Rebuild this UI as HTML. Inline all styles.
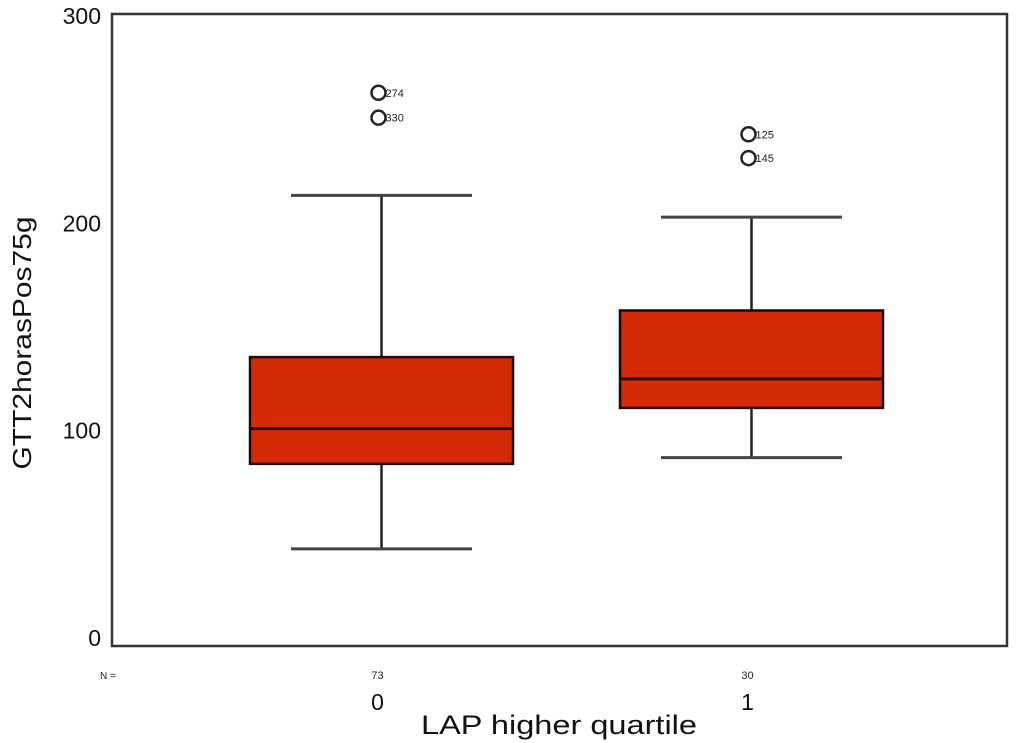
<!DOCTYPE html>
<html><head><meta charset="utf-8"><style>
html,body{margin:0;padding:0;background:#fff;}
svg{display:block;font-family:"Liberation Sans",sans-serif;}
</style></head><body>
<svg id="chart" width="1024" height="743" viewBox="0 0 1024 743">
<rect x="112" y="14" width="895" height="632" fill="#fff" stroke="#333" stroke-width="2.5"/>
<g id="yticks"></g>
<g id="boxes"></g>
<text x="31" y="343" font-size="26" text-anchor="middle" textLength="253" lengthAdjust="spacingAndGlyphs" transform="rotate(-90 31 343)" fill="#111">GTT2horasPos75g</text>
<text x="559" y="734" font-size="27" text-anchor="middle" textLength="276" lengthAdjust="spacingAndGlyphs" fill="#111">LAP higher quartile</text>
<text x="100" y="679" font-size="10" fill="#222">N =</text>
</svg>
<script>
const categories = ["0", "1"];
const counts = ["73", "30"];
const whiskerLow = [43, 87];
const q1 = [84, 111];
const median = [101, 125];
const q3 = [135.5, 158];
const whiskerHigh = [213.5, 203];
const outliers = [[263, 251], [243, 231.5]];
const outlierLabels = [["274", "330"], ["125", "145"]];
const yTicks = [0, 100, 200, 300];

const NS = "http://www.w3.org/2000/svg";
function y(v){ return 638 - v * 2.073; }
function xc(i){ return 381.5 + i * 370; }
function mk(tag, attrs, parent){
  const e = document.createElementNS(NS, tag);
  for (const k in attrs) e.setAttribute(k, attrs[k]);
  parent.appendChild(e);
  return e;
}
const yt = document.getElementById("yticks");
yTicks.forEach(t => {
  const e = mk("text", {x: 101, y: y(t) + 8, "font-size": 23, "text-anchor": "end", fill: "#111"}, yt);
  e.textContent = t;
  
  
});
const g = document.getElementById("boxes");
categories.forEach((c, i) => {
  const cx = xc(i), bw = 263, cw = 181;
  const grp = mk("g", {}, g);
  
  
  const st = {stroke: "#222", "stroke-width": 2.5};
  const w1 = mk("line", Object.assign({x1: cx, x2: cx, y1: y(whiskerHigh[i]), y2: y(q3[i])}, st), grp);
  
  
  const w2 = mk("line", Object.assign({x1: cx, x2: cx, y1: y(q1[i]), y2: y(whiskerLow[i])}, st), grp);
  
  
  const c1 = mk("line", {x1: cx - cw/2, x2: cx + cw/2, y1: y(whiskerHigh[i]), y2: y(whiskerHigh[i]), stroke: "#444", "stroke-width": 3}, grp);
  
  
  const c2 = mk("line", {x1: cx - cw/2, x2: cx + cw/2, y1: y(whiskerLow[i]), y2: y(whiskerLow[i]), stroke: "#444", "stroke-width": 3}, grp);
  
  
  const b = mk("rect", {x: cx - bw/2, y: y(q3[i]), width: bw, height: y(q1[i]) - y(q3[i]), fill: "#d42a06", stroke: "#1a0a05", "stroke-width": 2.5}, grp);
  
  
  const m = mk("line", {x1: cx - bw/2, x2: cx + bw/2, y1: y(median[i]), y2: y(median[i]), stroke: "#2a0500", "stroke-width": 3}, grp);
  
  
  outliers[i].forEach((v, j) => {
    const o = mk("circle", {cx: cx - 3, cy: y(v), r: 7, fill: "none", stroke: "#222", "stroke-width": 2.5}, grp);
    
    
    const ol = mk("text", {x: cx + 4, y: y(v) + 4, "font-size": 11, fill: "#222"}, grp);
    ol.textContent = outlierLabels[i][j];
    
    
  });
  const n = mk("text", {x: cx - 4, y: 679, "font-size": 11, "text-anchor": "middle", fill: "#222"}, grp);
  n.textContent = counts[i];
  
  
  const xl = mk("text", {x: cx - 4, y: 710, "font-size": 23, "text-anchor": "middle", fill: "#111"}, grp);
  xl.textContent = c;
  
  
});
</script>
</body></html>
